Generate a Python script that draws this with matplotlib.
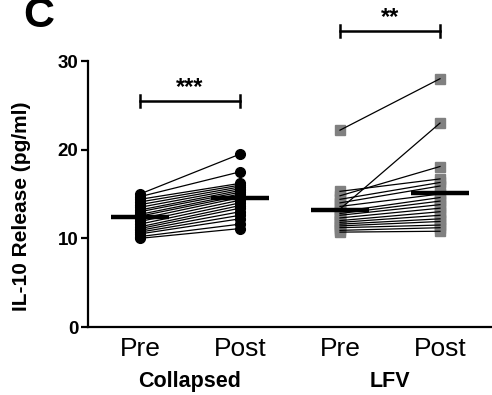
import matplotlib
matplotlib.use("Agg")
import matplotlib.pyplot as plt
import numpy as np

plt.rcParams['font.family'] = ['Liberation Sans', 'DejaVu Sans']

# Data
categories = ["Pre", "Post", "Pre", "Post"]
groups = ["Collapsed", "LFV"]
collapsed_pre = [15.0, 14.7, 14.4, 14.1, 13.8, 13.5, 13.2, 13.0, 12.7, 12.5,
                 12.2, 11.9, 11.6, 11.3, 11.1, 10.9, 10.7, 10.5, 10.2, 10.0]
collapsed_post = [19.5, 17.5, 16.2, 16.0, 15.8, 15.6, 15.4, 15.2, 15.0, 14.8,
                  14.6, 14.3, 14.0, 13.7, 13.4, 13.0, 12.6, 12.2, 11.6, 11.1]
lfv_pre = [22.2, 15.3, 14.8, 14.4, 14.0, 13.6, 13.3, 13.0, 12.8, 12.6,
           12.3, 12.0, 11.8, 11.6, 11.4, 11.2, 10.9, 10.7]
lfv_post = [28.0, 16.7, 18.1, 16.3, 15.9, 15.0, 23.0, 14.6, 14.2, 13.8,
            13.4, 13.0, 12.6, 12.2, 11.9, 11.5, 11.2, 10.8]
sig_labels = ["***", "**"]
sig_heights = [25.5, 33.4]
yticks = [0, 10, 20, 30]

fig = plt.figure(figsize=(4.92, 3.95), dpi=100)
ax = fig.add_axes([88/492, 68/395, 404/492, 266/395])

xpos = [0, 1, 2, 3]
# paired lines
for a, b in zip(collapsed_pre, collapsed_post):
    ax.plot([xpos[0], xpos[1]], [a, b], color='black', lw=0.9, zorder=2)
for a, b in zip(lfv_pre, lfv_post):
    ax.plot([xpos[2], xpos[3]], [a, b], color='black', lw=0.9, zorder=2)

ax.plot([xpos[0]] * len(collapsed_pre), collapsed_pre, 'o', color='black', ms=7, zorder=3)
ax.plot([xpos[1]] * len(collapsed_post), collapsed_post, 'o', color='black', ms=7, zorder=3)
ax.plot([xpos[2]] * len(lfv_pre), lfv_pre, 's', color='#808080', ms=6.5, zorder=1.5)
ax.plot([xpos[3]] * len(lfv_post), lfv_post, 's', color='#808080', ms=6.5, zorder=1.5)

# mean bars
for x, vals in zip(xpos, [collapsed_pre, collapsed_post, lfv_pre, lfv_post]):
    m = np.mean(vals)
    ax.plot([x - 0.29, x + 0.29], [m, m], color='black', lw=3.2, solid_capstyle='butt', zorder=4)

# significance brackets
for (x0, x1), h, lab in zip([(0, 1), (2, 3)], sig_heights, sig_labels):
    ax.plot([x0, x1], [h, h], color='black', lw=1.8, clip_on=False)
    for x in (x0, x1):
        ax.plot([x, x], [h - 0.7, h + 0.7], color='black', lw=1.8, clip_on=False)
    ax.text((x0 + x1) / 2, h + 0.25, lab, ha='center', va='bottom', fontsize=17,
            fontweight='bold', clip_on=False)

ax.set_xlim(-0.52, 3.52)
ax.set_ylim(0, 30)
ax.set_yticks(yticks)
ax.set_yticklabels([str(t) for t in yticks], fontsize=13.5, fontweight='bold')
ax.set_xticks(xpos)
ax.set_xticklabels(categories, fontsize=19)
ax.tick_params(axis='x', length=0, pad=7)
ax.tick_params(axis='y', length=5, width=1.6, pad=2)
for s in ['top', 'right']:
    ax.spines[s].set_visible(False)
for s in ['left', 'bottom']:
    ax.spines[s].set_linewidth(1.6)

ax.set_ylabel("IL-10 Release (pg/ml)", fontsize=15, fontweight='bold')
ax.yaxis.set_label_coords(-0.14, 0.455)

for x, g in zip([0.5, 2.5], groups):
    ax.text(x, -0.165, g, transform=ax.get_xaxis_transform(), ha='center', va='top',
            fontsize=15.5, fontweight='bold')

fig.text(39/492, 1 - 16/395, "C", fontsize=31, fontweight='bold', ha='center', va='center')

fig.savefig("out.png", dpi=100)
